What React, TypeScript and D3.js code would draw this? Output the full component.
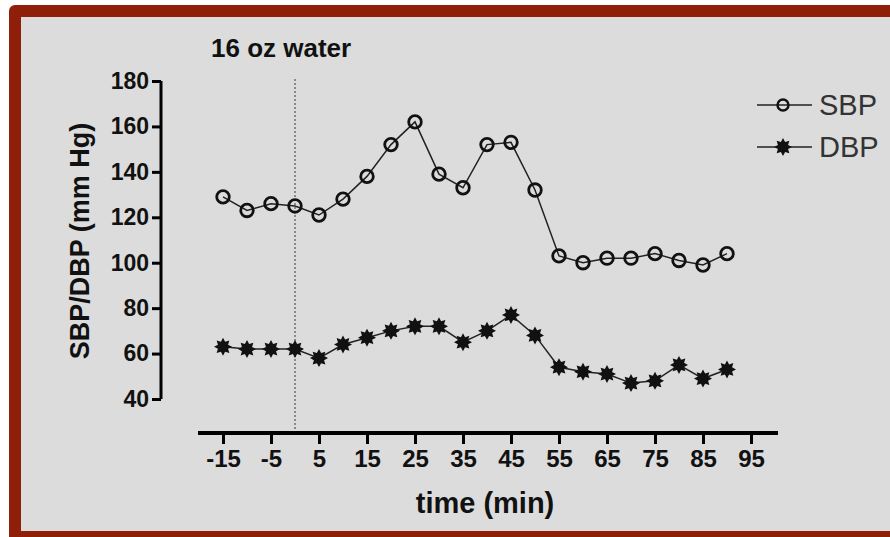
import React, { useEffect, useRef } from 'react';
import * as d3 from 'd3';

const times = [-15, -10, -5, 0, 5, 10, 15, 20, 25, 30, 35, 40, 45, 50, 55, 60, 65, 70, 75, 80, 85, 90];
const sbp = [129, 123, 126, 125, 121, 128, 138, 152, 162, 139, 133, 152, 153, 132, 103, 100, 102, 102, 104, 101, 99, 104];
const dbp = [63, 62, 62, 62, 58, 64, 67, 70, 72, 72, 65, 70, 77, 68, 54, 52, 51, 47, 48, 55, 49, 53];
const xTicks = [-15, -5, 5, 15, 25, 35, 45, 55, 65, 75, 85, 95];
const yTicks = [40, 60, 80, 100, 120, 140, 160, 180];

const FONT = "'Liberation Sans', Arial, sans-serif";

// 8-point filled star path centred on 0,0
const starPath = (ro: number, ri: number) => {
    const pts: [number, number][] = [];
    for (let i = 0; i < 16; i++) {
        const a = (Math.PI / 8) * i - Math.PI / 2;
        const r = i % 2 === 0 ? ro : ri;
        pts.push([Math.cos(a) * r, Math.sin(a) * r]);
    }
    return d3.line()(pts) + 'Z';
};

const App = () => {
    const ref = useRef<SVGSVGElement>(null);

    useEffect(() => {
        if (!ref.current) return;
        const svg = d3.select(ref.current);
        svg.selectAll('*').remove();

        // frame
        svg.append('rect').attr('x', 9).attr('y', 5).attr('width', 900).attr('height', 560)
            .attr('rx', 6).attr('fill', '#8f1f08');
        svg.append('rect').attr('x', 21).attr('y', 17).attr('width', 880).attr('height', 514)
            .attr('fill', '#dcdcdc');

        const x = d3.scaleLinear().domain([-15, 95]).range([223, 751]);
        const y = d3.scaleLinear().domain([40, 180]).range([399, 81]);

        // water marker
        svg.append('line').attr('x1', x(0)).attr('x2', x(0)).attr('y1', 79).attr('y2', 429)
            .attr('stroke', '#8a8a8a').attr('stroke-width', 2).attr('stroke-dasharray', '2,2');
        svg.append('text').attr('x', 211).attr('y', 57).text('16 oz water')
            .attr('font-family', FONT).attr('font-weight', 'bold').attr('font-size', 26)
            .attr('fill', '#111');

        // y axis
        const yAxis = svg.append('g').attr('transform', 'translate(161,0)')
            .call(d3.axisLeft(y).tickValues(yTicks).tickSize(9).tickPadding(3));
        yAxis.select('.domain').attr('d', `M0,${y(40)}V${y(180)}`).attr('stroke', '#000').attr('stroke-width', 3);
        yAxis.selectAll('.tick line').attr('stroke', '#000').attr('stroke-width', 3);
        yAxis.selectAll('.tick text').attr('font-family', FONT).attr('font-weight', 'bold')
            .attr('font-size', 23).attr('fill', '#111');

        // x axis
        const xAxis = svg.append('g').attr('transform', 'translate(0,433)')
            .call(d3.axisBottom(x).tickValues(xTicks).tickFormat(d => String(d)).tickSize(11).tickPadding(6));
        xAxis.select('.domain').attr('d', 'M198,0H778').attr('stroke', '#000').attr('stroke-width', 4);
        xAxis.selectAll('.tick line').attr('stroke', '#000').attr('stroke-width', 3);
        xAxis.selectAll('.tick text').attr('font-family', FONT).attr('font-weight', 'bold')
            .attr('font-size', 24).attr('fill', '#111');

        // axis titles
        svg.append('text').attr('x', 485).attr('y', 513).attr('text-anchor', 'middle')
            .text('time (min)').attr('font-family', FONT).attr('font-weight', 'bold')
            .attr('font-size', 29).attr('fill', '#111');
        svg.append('text').attr('transform', 'translate(89,241) rotate(-90)').attr('text-anchor', 'middle')
            .text('SBP/DBP (mm Hg)').attr('font-family', FONT).attr('font-weight', 'bold')
            .attr('font-size', 27).attr('fill', '#111');

        const line = d3.line<number>().x((_, i) => x(times[i])).y(d => y(d));

        // SBP
        svg.append('path').attr('d', line(sbp)).attr('fill', 'none').attr('stroke', '#222').attr('stroke-width', 1.5);
        svg.append('g').selectAll('circle').data(sbp).enter().append('circle')
            .attr('cx', (_, i) => x(times[i])).attr('cy', d => y(d)).attr('r', 6.3)
            .attr('fill', 'none').attr('stroke', '#111').attr('stroke-width', 2.8);

        // DBP
        svg.append('path').attr('d', line(dbp)).attr('fill', 'none').attr('stroke', '#222').attr('stroke-width', 1.5);
        const star = starPath(9, 5.5);
        svg.append('g').selectAll('path').data(dbp).enter().append('path')
            .attr('d', star).attr('transform', (d, i) => `translate(${x(times[i])},${y(d)})`)
            .attr('fill', '#111');

        // legend
        const legend = [{ name: 'SBP', y: 105 }, { name: 'DBP', y: 147 }];
        legend.forEach((l, i) => {
            svg.append('line').attr('x1', 757).attr('x2', 812).attr('y1', l.y).attr('y2', l.y)
                .attr('stroke', '#222').attr('stroke-width', 1.5);
            if (i === 0) {
                svg.append('circle').attr('cx', 783).attr('cy', l.y).attr('r', 5.5)
                    .attr('fill', 'none').attr('stroke', '#111').attr('stroke-width', 2.4);
            } else {
                svg.append('path').attr('d', star).attr('transform', `translate(783,${l.y})`).attr('fill', '#111');
            }
            svg.append('text').attr('x', 819).attr('y', l.y + 10).text(l.name)
                .attr('font-family', FONT).attr('font-size', 29).attr('fill', '#333');
        });
    }, []);

    return (
        <div style={{ position: 'absolute', left: 0, top: 0 }}>
            <svg ref={ref} width={890} height={537} style={{ display: 'block', background: '#fff' }} />
        </div>
    );
};

export default App;
